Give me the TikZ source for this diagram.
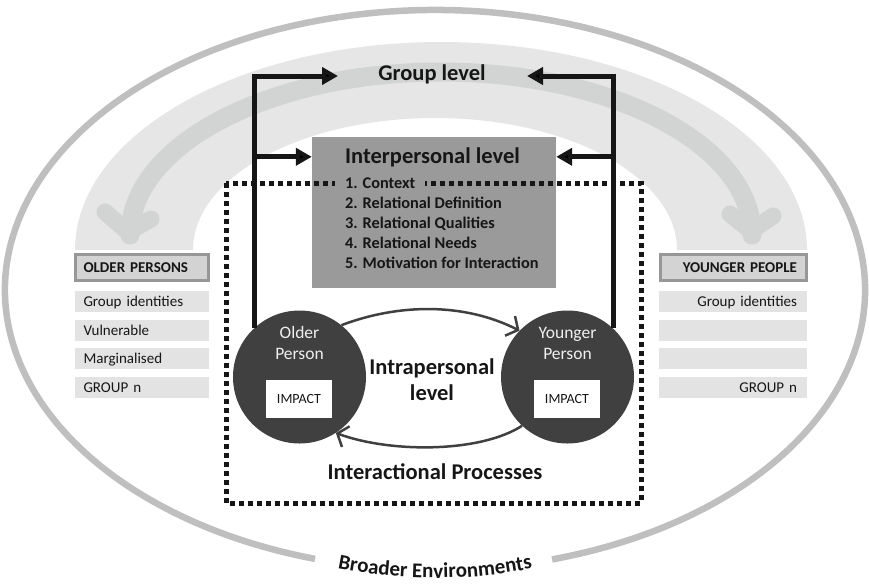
\documentclass[tikz,border=0pt]{standalone}
\usepackage{fontspec}
\setmainfont{Carlito}
\usetikzlibrary{arrows.meta,decorations.text}

\definecolor{envline}{HTML}{BFBFBF}
\definecolor{bandfill}{HTML}{E6E6E6}
\definecolor{stripegray}{HTML}{D2D3D3}
\definecolor{headfill}{HTML}{D3D3D3}
\definecolor{headline}{HTML}{979797}
\definecolor{rowfill}{HTML}{E3E3E3}
\definecolor{boxgray}{HTML}{9A9A9A}
\definecolor{persondark}{HTML}{404040}
\definecolor{ink}{HTML}{161616}

\newcommand{\envfont}{\bfseries\fontsize{21}{21}\selectfont}

\begin{document}
\begin{tikzpicture}[x=1pt,y=1pt,
  bigbold/.style={font=\bfseries\fontsize{22.5}{27}\selectfont, text=ink, inner sep=0},
  itemtext/.style={font=\bfseries\fontsize{16.3}{20}\selectfont, text=ink, inner sep=0, anchor=base west},
  headbox/.style={rectangle, draw=headline, line width=3, fill=headfill, minimum height=26,
    inner ysep=0, text height=10pt, text depth=0pt, text=ink,
    font=\bfseries\fontsize{15}{18}\selectfont},
  rowbox/.style={rectangle, fill=rowfill, minimum height=21, inner ysep=0,
    text height=10pt, text depth=0pt, text=ink, font=\fontsize{15}{18}\selectfont},
  person/.style={circle, fill=persondark, minimum size=133, inner sep=0},
  personlbl/.style={font=\fontsize{17.5}{21}\selectfont, text=white!94!black, inner sep=0, anchor=base},
  impact/.style={rectangle, fill=white, minimum width=66, minimum height=38, inner sep=0,
    font=\fontsize{14}{16}\selectfont, text=ink},
  levelarrow/.style={draw=ink, line width=5, line join=miter, -{Triangle[length=16pt,width=17pt]}},
  flow/.style={draw=persondark, line width=2.5, -{Straight Barb[length=9pt,width=22pt]}},
  dotframe/.style={draw=ink, line width=5, dash pattern=on 4.6pt off 4.4pt},
  stripeline/.style={draw=stripegray, line cap=round, line join=round}
]
\useasboundingbox (0,0) rectangle (869,-587);

% broader environments: outer ellipse with a gap for its label
\draw[envline, line width=6.5]
  ([shift={(435,-290)}]285.8:430 and 280)
  arc[start angle=285.8, end angle=613.8, x radius=430, y radius=280];
\path[decorate, decoration={text along path, text align=center, text color=ink,
    text={|\envfont|Broader Environments}}]
  ([shift={(435,-348)}]240:340 and 230)
  arc[start angle=240, end angle=300, x radius=340, y radius=230];

% group level band
\fill[bandfill] (75,-250) arc[start angle=180, end angle=0, x radius=366, y radius=208]
  -- (677,-250) arc[start angle=0, end angle=180, x radius=242, y radius=132] -- cycle;
\draw[stripeline, line width=19] (130,-230) -- (130,-235)
  arc[start angle=180, end angle=0, x radius=311, y radius=163] -- (752,-230);
\draw[stripeline, line width=17] (105,-212) -- (128,-232) -- (151,-219);
\draw[stripeline, line width=17] (730,-214) -- (751,-231) -- (773,-216);

% older persons panel
\node[headbox, minimum width=133, inner xsep=8, text width=117, align=left] (oldhead) at (142,-267.5) {OLDER PERSONS};
\node[rowbox, minimum width=134, inner xsep=8.5, text width=117, align=left] (old1) at (142,-301.5) {Group identities};
\node[rowbox, minimum width=134, inner xsep=8.5, text width=117, align=left] (old2) at (142,-330.5) {Vulnerable};
\node[rowbox, minimum width=134, inner xsep=8.5, text width=117, align=left] (old3) at (142,-358.5) {Marginalised};
\node[rowbox, minimum width=134, inner xsep=8.5, text width=117, align=left] (old4) at (142,-387.5) {GROUP n};

% younger people panel
\node[headbox, minimum width=146, inner xsep=9.5, text width=127, align=right] (younghead) at (733.5,-267.5) {YOUNGER PEOPLE};
\node[rowbox, minimum width=148, inner xsep=10, text width=128, align=right] (young1) at (733,-301.5) {Group identities};
\node[rowbox, minimum width=148, inner xsep=10, text width=128, align=right] (young2) at (733,-330.5) {};
\node[rowbox, minimum width=148, inner xsep=10, text width=128, align=right] (young3) at (733,-358.5) {};
\node[rowbox, minimum width=148, inner xsep=10, text width=128, align=right] (young4) at (733,-387.5) {GROUP n};

% interpersonal level box
\node[fill=boxgray, minimum width=244, minimum height=151, inner sep=0] (interp) at (434,-212.5) {};

% the two persons
\node[person] (older) at (299.5,-377) {};
\node[person] (younger) at (567.5,-377) {};

% level arrows
\node[bigbold, anchor=base] (grouplbl) at (432,-80) {Group level};
\coordinate (gl-l) at (338,-76);
\coordinate (gl-r) at (527,-76);
\coordinate (ip-l) at ([yshift=-20]interp.north west);
\coordinate (ip-r) at ([yshift=-20]interp.north east);
\draw[levelarrow] (older.133) |- (gl-l);
\draw[levelarrow] (older.133 |- ip-l) -- (ip-l);
\draw[levelarrow] (younger.47) |- (gl-r);
\draw[levelarrow] (younger.47 |- ip-r) -- (ip-r);

% interactional frame
\draw[dotframe] (226,-183) rectangle (641,-503);

% interpersonal level contents
\node[bigbold, anchor=base west] (iptitle) at (345,-163) {Interpersonal level};
\node[itemtext, fill=boxgray, inner xsep=10, inner ysep=4] (ip1) at (335,-188.5) {1. Context};
\node[itemtext] (ip2) at (345,-208.5) {2. Relational Definition};
\node[itemtext] (ip3) at (345,-228.5) {3. Relational Qualities};
\node[itemtext] (ip4) at (345,-248.5) {4. Relational Needs};
\node[itemtext] (ip5) at (345,-268.5) {5. Motivation for Interaction};

% person labels
\node[personlbl] (older-a) at (299.5,-338) {Older};
\node[personlbl] (older-b) at (299.5,-359) {Person};
\node[personlbl] (younger-a) at (567.5,-338) {Younger};
\node[personlbl] (younger-b) at (567.5,-359) {Person};
\node[impact] (older-impact) at (299,-399) {IMPACT};
\node[impact] (younger-impact) at (567,-399) {IMPACT};

% interactional processes
\draw[flow] (older.51) .. controls (400,-303) and (465,-303) .. (younger.136);
\draw[flow] (younger.227) .. controls (480,-453) and (390,-453) .. (older.303);

\node[bigbold, anchor=base] (intra-a) at (432,-374) {Intrapersonal};
\node[bigbold, anchor=base] (intra-b) at (432,-400) {level};
\node[bigbold, anchor=base] (procs) at (435,-479) {Interactional Processes};
\end{tikzpicture}
\end{document}
